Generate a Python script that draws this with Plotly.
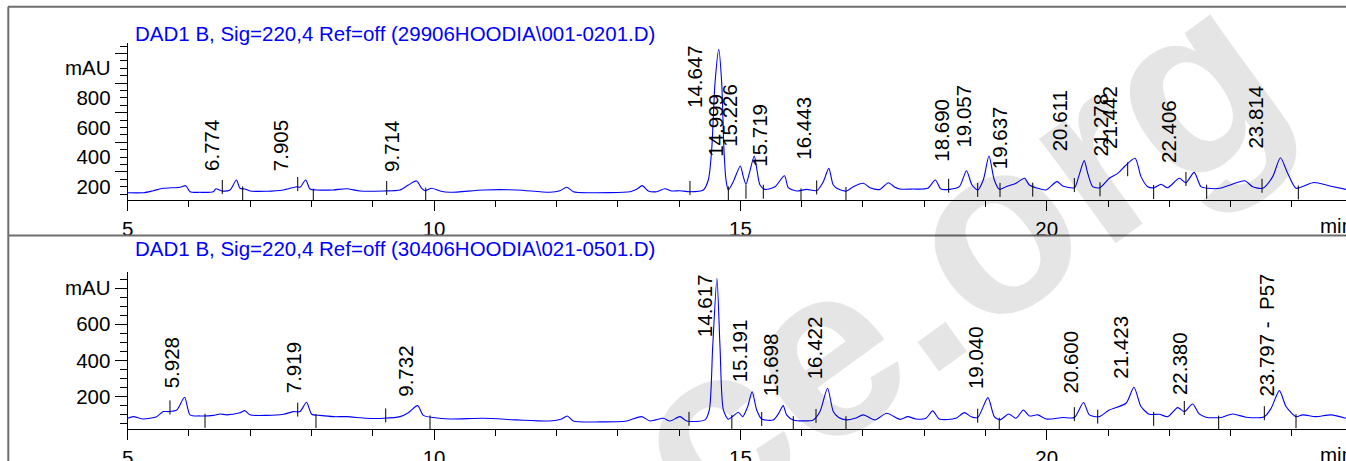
import plotly.graph_objects as go

W, H = 1346, 461
FONT = "Liberation Sans, Arial, sans-serif"
BLUE = "#0000ff"

top_title = "DAD1 B, Sig=220,4 Ref=off (29906HOODIA\\001-0201.D)"
bot_title = "DAD1 B, Sig=220,4 Ref=off (30406HOODIA\\021-0501.D)"

# ---------------- top chromatogram (min, mAU) ----------------
top_time = [5.000, 5.255, 5.418, 5.581, 5.854, 5.947, 6.017, 6.180, 6.397, 6.441, 6.534, 6.670, 6.774, 6.833,
            6.914, 6.995, 7.269, 7.540, 7.758, 7.812, 7.905, 7.976, 8.085, 8.356, 8.574, 8.793, 9.172, 9.444,
            9.580, 9.714, 9.798, 9.852, 9.962, 10.097, 10.260, 10.804, 11.349, 11.892, 12.056, 12.165, 12.273,
            12.545, 13.198, 13.307, 13.399, 13.497, 13.634, 13.769, 13.879, 14.014, 14.177, 14.395, 14.476,
            14.531, 14.585, 14.647, 14.695, 14.732, 14.765, 14.803, 14.884, 14.999, 15.047, 15.091, 15.145,
            15.226, 15.266, 15.320, 15.401, 15.565, 15.719, 15.782, 15.919, 16.082, 16.245, 16.353, 16.443,
            16.516, 16.598, 16.735, 16.843, 17.006, 17.115, 17.278, 17.414, 17.523, 17.605, 17.812, 18.057,
            18.181, 18.274, 18.410, 18.573, 18.690, 18.780, 18.873, 18.964, 19.057, 19.144, 19.226, 19.335,
            19.498, 19.637, 19.715, 19.824, 19.988, 20.167, 20.260, 20.450, 20.521, 20.611, 20.669, 20.750,
            20.869, 21.021, 21.158, 21.278, 21.442, 21.538, 21.648, 21.756, 21.865, 21.974, 22.163, 22.272,
            22.406, 22.517, 22.627, 22.827, 23.018, 23.230, 23.361, 23.524, 23.688, 23.814, 23.932, 24.068,
            24.200, 24.360, 24.620, 24.884]
top_mau = [159, 159, 173, 189, 196, 207, 166, 162, 166, 186, 171, 178, 245, 189,
           184, 171, 169, 178, 200, 196, 245, 184, 178, 178, 186, 171, 171, 178,
           211, 239, 189, 173, 189, 171, 162, 178, 178, 162, 173, 196, 166,
           159, 166, 182, 207, 171, 166, 186, 171, 173, 166, 178, 245,
           448, 899, 1128, 899, 448, 245, 178, 234, 340, 268, 216, 290,
           407, 324, 211, 182, 200, 274, 193, 171, 182, 173, 234, 324,
           211, 184, 171, 200, 223, 193, 182, 227, 196, 184, 184, 189,
           245, 184, 182, 200, 308, 211, 178, 245, 407, 245, 182, 200,
           223, 257, 211, 193, 178, 234, 205, 193, 268, 376, 290, 200,
           193, 257, 290, 340, 392, 268, 200, 193, 216, 193, 257, 227,
           297, 200, 189, 189, 215, 240, 200, 189, 268, 396, 290, 189,
           205, 228, 205, 182]

top_marker_time = [6.544, 6.877, 7.775, 8.029, 9.227, 9.864, 14.177, 14.803, 15.091, 15.374, 15.989, 16.245,
                   16.723, 18.399, 18.873, 19.237, 19.771, 20.450, 20.869, 21.321, 21.745, 22.272, 22.610,
                   23.513, 24.106]
top_marker_mau = [198, 155, 218, 139, 191, 146, 191, 155, 166, 166, 141, 195,
                  151, 206, 178, 178, 180, 211, 182, 318, 164, 252, 166,
                  206, 161]

top_labels = ["6.774", "7.905", "9.714", "14.647", "14.999", "15.226", "15.719", "16.443", "18.690",
              "19.057", "19.637", "20.611", "21.278", "21.442", "22.406", "23.814"]

# ---------------- bottom chromatogram (min, mAU) ----------------
bot_time = [5.000, 5.091, 5.255, 5.473, 5.581, 5.663, 5.800, 5.928, 6.017, 6.180, 6.397, 6.506, 6.616, 6.833,
            6.914, 6.995, 7.269, 7.540, 7.704, 7.812, 7.919, 8.003, 8.139, 8.356, 8.574, 8.901, 9.172, 9.444,
            9.580, 9.732, 9.825, 9.988, 10.260, 10.804, 11.349, 11.892, 12.083, 12.175, 12.273, 12.709, 13.144,
            13.389, 13.525, 13.742, 13.851, 14.014, 14.123, 14.422, 14.493, 14.548, 14.617, 14.667, 14.722,
            14.803, 14.884, 14.966, 15.037, 15.118, 15.191, 15.266, 15.348, 15.537, 15.619, 15.698, 15.754,
            15.863, 16.190, 16.299, 16.422, 16.516, 16.598, 16.735, 16.871, 17.006, 17.197, 17.388, 17.605,
            17.730, 17.866, 18.029, 18.138, 18.246, 18.518, 18.654, 18.764, 18.873, 19.040, 19.144, 19.237,
            19.379, 19.498, 19.618, 19.716, 19.853, 19.988, 20.261, 20.450, 20.600, 20.695, 20.859, 21.021,
            21.294, 21.423, 21.538, 21.674, 21.837, 21.974, 22.137, 22.245, 22.380, 22.489, 22.598, 22.843,
            23.034, 23.252, 23.551, 23.660, 23.797, 23.906, 24.068, 24.177, 24.395, 24.640, 24.884]
bot_mau = [80, 89, 76, 89, 117, 117, 126, 196, 99, 93, 96, 104, 99, 111,
           122, 99, 96, 102, 117, 117, 169, 102, 96, 89, 89, 80, 80, 89,
           111, 150, 96, 84, 76, 80, 71, 65, 76, 93, 65, 60, 65,
           89, 65, 80, 65, 89, 65, 71, 126, 477, 855, 477, 126,
           75, 93, 113, 89, 144, 227, 126, 76, 71, 104, 150, 99,
           71, 71, 117, 246, 117, 86, 71, 80, 99, 71, 108, 74,
           89, 76, 80, 121, 76, 80, 111, 89, 84, 194, 89, 71,
           104, 80, 126, 93, 99, 76, 84, 84, 167, 99, 89, 126,
           163, 252, 145, 102, 102, 89, 139, 117, 159, 104, 86, 84,
           104, 86, 89, 134, 233, 145, 89, 99, 89, 99, 80]

bot_marker_time = [5.690, 6.262, 7.775, 8.073, 9.211, 9.934, 14.161, 14.860, 15.348, 15.863, 16.234, 16.723,
                   18.873, 19.225, 20.450, 20.832, 21.745, 22.245, 22.806, 23.551, 24.068]
bot_marker_mau = [140, 66, 128, 64, 96, 57, 77, 60, 76, 53, 93, 53,
                  94, 45, 103, 89, 77, 137, 56, 108, 64]

bot_labels = ["5.928", "7.919", "9.732", "14.617", "15.191", "15.698", "16.422", "19.040", "20.600",
              "21.423", "22.380", "23.797 -  P57"]

# ---------------- axes ----------------
x_range = [5, 24.884]
x_major = [5, 10, 15, 20]
top_y_range = [110, 1173]
bot_y_range = [19, 891]
top_ylabel_vals = [200, 400, 600, 800, 1000]
top_ytick_major = [300, 500, 700, 900, 1100]
bot_ytick_major = [200, 400, 600, 800]
ylabel_text_top = ["200", "400", "600", "800", "mAU"]
ylabel_text_bot = ["200", "400", "600", "mAU"]

x_dom = [127.7 / W, 1.0]
top_dom = [1 - 200 / H, 1 - 42.7 / H]
bot_dom = [1 - 429.3 / H, 1 - 271.7 / H]

fig = go.Figure()

line_style = dict(color=BLUE, width=1.1, shape="spline", smoothing=0.7)
mk_style = dict(symbol="line-ns", size=10, color="black", line=dict(color="black", width=1))

fig.add_trace(go.Scatter(x=top_time, y=top_mau, mode="lines", line=line_style, xaxis="x", yaxis="y",
                         showlegend=False, hoverinfo="skip"))
fig.add_trace(go.Scatter(x=top_marker_time, y=top_marker_mau, mode="markers", marker=mk_style, xaxis="x",
                         yaxis="y", showlegend=False, hoverinfo="skip"))
fig.add_trace(go.Scatter(x=[None], y=[None], xaxis="x", yaxis="y3", showlegend=False, hoverinfo="skip"))
fig.add_trace(go.Scatter(x=bot_time, y=bot_mau, mode="lines", line=line_style, xaxis="x2", yaxis="y2",
                         showlegend=False, hoverinfo="skip"))
fig.add_trace(go.Scatter(x=bot_marker_time, y=bot_marker_mau, mode="markers", marker=mk_style, xaxis="x2",
                         yaxis="y2", showlegend=False, hoverinfo="skip"))

tickfont = dict(family=FONT, size=20.5, color="black")

def xaxis_cfg(anchor):
    return dict(domain=x_dom, range=x_range, anchor=anchor, showgrid=False, zeroline=False, automargin=False,
                showline=True, linecolor="black", linewidth=1.3, ticks="outside", ticklen=10,
                tickcolor="black", tickwidth=1, tickvals=x_major, ticktext=[str(v) for v in x_major],
                tickfont=tickfont,
                minor=dict(dtick=1, tick0=0, ticks="outside", ticklen=6, tickcolor="black", tickwidth=1,
                           showgrid=False))

fig.update_layout(
    width=W, height=H, paper_bgcolor="white", plot_bgcolor="white",
    margin=dict(l=0, r=0, t=0, b=0, pad=0, autoexpand=False), showlegend=False,
    xaxis=xaxis_cfg("y"),
    xaxis2=xaxis_cfg("y2"),
    yaxis=dict(domain=top_dom, range=top_y_range, anchor="x", showgrid=False, zeroline=False, automargin=False,
               showline=True, linecolor="black", linewidth=1.3, ticks="outside", ticklen=12,
               tickcolor="black", tickvals=top_ytick_major, showticklabels=False,
               minor=dict(dtick=50, tick0=0, ticks="outside", ticklen=7, tickcolor="black",
                          showgrid=False)),
    yaxis3=dict(overlaying="y", anchor="x", side="left", range=top_y_range, showgrid=False, automargin=False,
                zeroline=False, showline=False, ticks="outside", ticklen=12,
                tickcolor="rgba(0,0,0,0)", tickvals=top_ylabel_vals, ticktext=ylabel_text_top,
                tickfont=tickfont),
    yaxis2=dict(domain=bot_dom, range=bot_y_range, anchor="x2", showgrid=False, zeroline=False, automargin=False,
                showline=True, linecolor="black", linewidth=1.3, ticks="outside", ticklen=12,
                tickcolor="black", tickvals=bot_ytick_major, ticktext=ylabel_text_bot, tickfont=tickfont,
                minor=dict(dtick=50, tick0=0, ticks="outside", ticklen=7, tickcolor="black",
                           showgrid=False)),
)

# ---------------- frame lines ----------------
frame = dict(color="#6e6e6e", width=2)
fig.add_shape(type="line", xref="paper", yref="paper", x0=8 / W, x1=1, y0=1 - 6.7 / H, y1=1 - 6.7 / H, line=frame)
fig.add_shape(type="line", xref="paper", yref="paper", x0=8.3 / W, x1=8.3 / W, y0=0, y1=1 - 6.7 / H, line=frame)
fig.add_shape(type="line", xref="paper", yref="paper", x0=8 / W, x1=1, y0=1 - 235.5 / H, y1=1 - 235.5 / H, line=frame)

# ---------------- watermark ----------------
fig.add_annotation(text="<b>ce.org</b>", xref="paper", yref="paper", x=952 / W, y=1 - 257 / H,
                   xanchor="center", yanchor="middle",
                   showarrow=False, textangle=-36, font=dict(family=FONT, size=245, color="rgba(0,0,0,0.10)"))

# ---------------- titles ----------------
for t, ypx in ((top_title, 33), (bot_title, 248)):
    fig.add_annotation(text=t, xref="paper", yref="paper", x=133 / W, y=1 - ypx / H, xanchor="left",
                       yanchor="middle", showarrow=False, font=dict(family=FONT, size=20.5, color=BLUE))

for ypx in (225, 454):
    fig.add_annotation(text="min", xref="paper", yref="paper", x=1318 / W, y=1 - ypx / H, xanchor="left",
                       yanchor="middle", showarrow=False, font=tickfont)

# ---------------- peak labels ----------------
CW = {".": 0.278, " ": 0.278, "-": 0.333, "P": 0.667}
LSIZE = 20.5

def text_px(s):
    return sum(CW.get(c, 0.556) for c in s) * LSIZE

def add_labels(labels, times, vals, xref, yref, yrange, dom, xshift):
    ppu = (dom[1] - dom[0]) * H / (yrange[1] - yrange[0])
    for lab in labels:
        rt = float(lab.split()[0])
        i = min(range(len(times)), key=lambda k: abs(times[k] - rt))
        apex = vals[i]
        room = (yrange[1] - apex) * ppu - 9
        if text_px(lab) + 2 > room:
            y, ya, ys = yrange[1], "top", -1
        else:
            y, ya, ys = apex, "bottom", 8
        fig.add_annotation(text=lab, x=rt, y=y, xref=xref, yref=yref, xanchor="center", yanchor=ya,
                           xshift=xshift, yshift=ys, textangle=-90, showarrow=False, borderpad=0,
                           font=dict(family=FONT, size=LSIZE, color="black"))

add_labels(top_labels, top_time, top_mau, "x", "y", top_y_range, top_dom, -25)
add_labels(bot_labels, bot_time, bot_mau, "x2", "y2", bot_y_range, bot_dom, -13)

fig.write_html("out.html", config={"displayModeBar": False},
               post_script="document.body.style.margin='0px';document.body.style.overflow='hidden';")
